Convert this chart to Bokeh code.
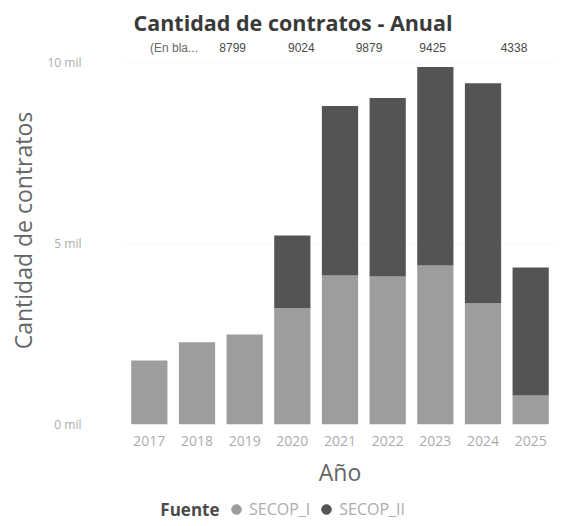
from bokeh.plotting import figure
from bokeh.layouts import column
from bokeh.models import (FactorRange, Range1d, FixedTicker, Label, Legend, LegendItem,
                          ColumnDataSource)
from bokeh.core.properties import value
from bokeh.embed import file_html
from bokeh.resources import INLINE

# ---- data ----
years = ["2017", "2018", "2019", "2020", "2021", "2022", "2023", "2024", "2025"]
secop_i = [1770, 2270, 2490, 3220, 4120, 4090, 4390, 3350, 800]
secop_ii = [0, 0, 0, 2000, 4679, 4934, 5489, 6075, 3538]
series = ["SECOP_I", "SECOP_II"]
colors = ["#9d9d9d", "#545454"]

top_labels = ["(En bla...", "8799", "9024", "9879", "9425", "4338"]
top_label_anchor = ["2018", "2019", "2020", "2021", "2022", "2024"]
top_label_offset = [-23, -12, 9, 29, 45, 31]
top_label_colors = ["#6a6a6a", "#4a4a4a", "#4a4a4a", "#4a4a4a", "#4a4a4a", "#4a4a4a"]
top_label_y = [10414] * len(top_labels)

y_ticks = [0, 5000, 10000]
y_tick_labels = ["0 mil", "5 mil", "10 mil"]

FONT = "Open Sans"

src = ColumnDataSource(dict(year=years, SECOP_I=secop_i, SECOP_II=secop_ii))

p = figure(x_range=FactorRange(*years, range_padding=0),
           y_range=Range1d(0, 10720),
           width=564, height=494, output_backend="svg", toolbar_location=None,
           min_border_left=125, min_border_right=10, min_border_top=36, min_border_bottom=70)
p.outline_line_color = None
p.background_fill_color = "white"
p.border_fill_color = "white"

p.title.text = "Cantidad de contratos - Anual"
p.title.align = "left"
p.title.offset = 8
p.title.standoff = 0
p.title.text_font = FONT
p.title.text_font_size = "21.5px"
p.title.text_font_style = "bold"
p.title.text_color = "#3a3a3a"

p.vbar_stack(series, x="year", width=0.76, color=colors, source=src, line_color=None)

# total labels along the top
lab_src = ColumnDataSource(dict(x=top_label_anchor, y=top_label_y, text=top_labels,
                                off=top_label_offset, c=top_label_colors))
p.text(x="x", y="y", text="text", x_offset="off", text_color="c", source=lab_src,
       text_font=value("Liberation Sans"), text_font_size="12px",
       text_align="center", text_baseline="middle")

# axes
p.xgrid.grid_line_color = None
p.ygrid.grid_line_color = "#e4e4e4"
p.ygrid.grid_line_dash = "1 3"
p.ygrid.ticker = FixedTicker(ticks=y_ticks[1:])

p.yaxis.ticker = FixedTicker(ticks=y_ticks)
p.yaxis.major_label_overrides = {t: l for t, l in zip(y_ticks, y_tick_labels)}
for ax in (p.xaxis[0], p.yaxis[0]):
    ax.axis_line_color = None
    ax.major_tick_line_color = None
    ax.minor_tick_line_color = None
    ax.major_label_text_font = FONT
    ax.major_label_text_color = "#acacac"
    ax.axis_label_text_font = FONT
    ax.axis_label_text_font_style = "normal"
    ax.axis_label_text_color = "#666666"

p.yaxis.axis_label = "Cantidad de contratos"
p.yaxis.major_label_text_font_size = "12px"
p.yaxis.major_label_standoff = 38
p.yaxis.axis_label_text_font_size = "23px"
p.yaxis.axis_label_standoff = 5

p.xaxis.axis_label = "Año"
p.xaxis.major_label_text_font_size = "14px"
p.xaxis.major_label_standoff = 5
p.xaxis.axis_label_text_font_size = "23px"
p.xaxis.axis_label_standoff = 7

# ---- legend strip (its frame aligns with the chart's frame in the column) ----
lg = figure(width=564, height=30, x_range=Range1d(0, 1), y_range=Range1d(0, 1),
            output_backend="svg", toolbar_location=None, min_border=0,
            x_axis_location=None, y_axis_location=None)
lg.grid.visible = False
lg.outline_line_color = None
dots = [lg.scatter(x=[-5], y=[-5], marker="circle", size=11, color=c) for c in colors]
legend = Legend(items=[LegendItem(label=s, renderers=[r]) for s, r in zip(series, dots)],
                orientation="horizontal", location=(98, 3),
                glyph_width=26, glyph_height=24, label_standoff=0, spacing=3,
                padding=0, margin=0, border_line_color=None, background_fill_alpha=0,
                label_text_font=FONT, label_text_font_size="16px",
                label_text_color="#acacac")
lg.add_layout(legend, "center")
lg.add_layout(Label(x=94, y=15, x_units="screen", y_units="screen", text="Fuente",
                    text_font=FONT, text_font_size="17px", text_font_style="bold",
                    text_color="#4a4a4a", text_align="right", text_baseline="middle"))

layout = column(p, lg, spacing=0)
open("out.html", "w").write(file_html(layout, INLINE))
